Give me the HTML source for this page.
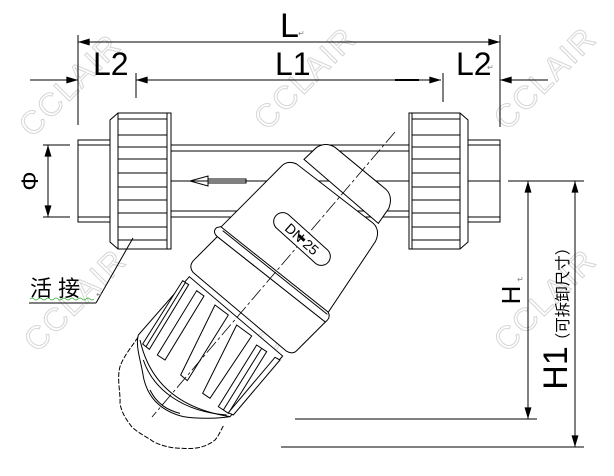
<!DOCTYPE html>
<html><head><meta charset="utf-8"><style>
html,body{margin:0;padding:0;background:#fff;}
svg{display:block;}
text{font-family:"Liberation Sans","Noto Sans CJK SC",sans-serif;}
</style></head><body>
<svg width="614" height="476" viewBox="0 0 614 476" xmlns="http://www.w3.org/2000/svg">
<defs>
<marker id="a" viewBox="0 0 10 6" refX="10" refY="3" markerWidth="24" markerHeight="7" markerUnits="userSpaceOnUse" orient="auto"><path d="M0,0 L10,3 L0,6 Z" fill="#000"/></marker>
</defs>
<g fill="none" stroke="#d6d6d6" stroke-width="1" font-size="32" letter-spacing="2" text-anchor="middle">
<text transform="translate(70,85) rotate(-45)" dy="11">CCLAIR</text>
<text transform="translate(305,78) rotate(-45)" dy="11">CCLAIR</text>
<text transform="translate(545,78) rotate(-45)" dy="11">CCLAIR</text>
<text transform="translate(75,300) rotate(-45)" dy="11">CCLAIR</text>
<text transform="translate(305,305) rotate(-45)" dy="11">CCLAIR</text>
<text transform="translate(545,300) rotate(-45)" dy="11">CCLAIR</text>
</g>
<g stroke="#000" stroke-width="1" fill="none">
<line x1="78" y1="35" x2="78" y2="125"/>
<line x1="500" y1="35" x2="500" y2="127"/>
<line x1="290" y1="42" x2="78" y2="42" marker-end="url(#a)"/>
<line x1="290" y1="42" x2="500" y2="42" marker-end="url(#a)"/>
<line x1="30" y1="80" x2="78" y2="80" marker-end="url(#a)"/>
<line x1="136" y1="73" x2="136" y2="98"/>
<line x1="443" y1="73" x2="443" y2="102"/>
<line x1="290" y1="80" x2="136" y2="80" marker-end="url(#a)"/>
<line x1="290" y1="80" x2="441" y2="80" marker-end="url(#a)"/>
<line x1="395" y1="80" x2="419" y2="80" stroke-width="2"/>
<line x1="548" y1="80" x2="500" y2="80" marker-end="url(#a)"/>
<rect x="78" y="140" width="32" height="82"/>
<line x1="78" y1="145" x2="110" y2="145"/><line x1="78" y1="217" x2="110" y2="217"/>
<rect x="468" y="140" width="32" height="82"/>
<line x1="468" y1="145" x2="500" y2="145"/><line x1="468" y1="217" x2="500" y2="217"/>
<line x1="171" y1="145" x2="409" y2="145"/><line x1="171" y1="151" x2="409" y2="151"/>
<line x1="171" y1="211" x2="409" y2="211"/><line x1="171" y1="217" x2="409" y2="217"/>
<line x1="110" y1="181" x2="500" y2="181"/>
<line x1="508" y1="181" x2="584" y2="181"/>
<path d="M190,181 L208,176 L208,186 Z"/>
<rect x="208" y="179" width="38" height="4"/>
<path d="M118,113 L171,113 L171,249 L118,249 L110,242 L110,120 Z" fill="#fff"/>
<line x1="118" y1="113" x2="118" y2="249"/><line x1="167" y1="113" x2="167" y2="249"/>
<g>
<line x1="118" y1="119" x2="167" y2="119"/><line x1="118" y1="135" x2="167" y2="135"/>
<line x1="118" y1="147" x2="167" y2="147"/><line x1="118" y1="159" x2="167" y2="159"/>
<line x1="118" y1="173" x2="167" y2="173"/><line x1="118" y1="187" x2="167" y2="187"/>
<line x1="118" y1="200" x2="167" y2="200"/><line x1="118" y1="213" x2="167" y2="213"/>
<line x1="118" y1="227" x2="167" y2="227"/><line x1="118" y1="240" x2="167" y2="240"/>
</g>
<path d="M409,113 L460,113 L468,120 L468,242 L460,249 L409,249 Z" fill="#fff"/>
<line x1="412" y1="113" x2="412" y2="249"/><line x1="460" y1="113" x2="460" y2="249"/>
<g>
<line x1="412" y1="119" x2="460" y2="119"/><line x1="412" y1="135" x2="460" y2="135"/>
<line x1="412" y1="147" x2="460" y2="147"/><line x1="412" y1="159" x2="460" y2="159"/>
<line x1="412" y1="173" x2="460" y2="173"/><line x1="412" y1="187" x2="460" y2="187"/>
<line x1="412" y1="200" x2="460" y2="200"/><line x1="412" y1="213" x2="460" y2="213"/>
<line x1="412" y1="227" x2="460" y2="227"/><line x1="412" y1="240" x2="460" y2="240"/>
</g>
<line x1="43" y1="145" x2="70" y2="145"/><line x1="43" y1="217" x2="70" y2="217"/>
<line x1="48" y1="181" x2="48" y2="145" marker-end="url(#a)"/>
<line x1="48" y1="181" x2="48" y2="217" marker-end="url(#a)"/>
<line x1="528" y1="300" x2="528" y2="181" marker-end="url(#a)"/>
<line x1="528" y1="300" x2="528" y2="419" marker-end="url(#a)"/>
<line x1="575" y1="300" x2="575" y2="181" marker-end="url(#a)"/>
<line x1="575" y1="300" x2="575" y2="447" marker-end="url(#a)"/>
<line x1="295" y1="419" x2="537" y2="419"/>
<line x1="281" y1="447" x2="584" y2="447"/>
<line x1="29" y1="303" x2="96" y2="303"/>
<line x1="96" y1="303" x2="133" y2="238"/>
<path d="M30,299 q2,-2 4,0 t4,0 t4,0 t4,0 t4,0 t4,0 t4,0 t4,0 t4,0 t4,0 t4,0 t4,0 t4,0 t4,0 t4,0 t4,0" stroke="#3a3" stroke-width="0.8"/>
</g>
<g transform="translate(100,130) scale(0.33333)" stroke="#000" stroke-width="3" fill="#fff">
<path d="M612,88 L650,52 Q678,35 705,52 L858,178 Q880,200 866,236 L835,280 L612,88 Z"/>
<path d="M362,292 L545,108 Q562,90 590,102 L820,280 Q842,302 826,335 L684,548 Z"/>
<path d="M352,320 L280,392 Q265,410 280,428 L560,664 Q580,675 592,660 L676,576 Z"/>
<path d="M268,440 L115,615 C105,650 125,700 130,740 C140,790 170,840 250,860 C300,868 360,865 390,860 L548,678 Z"/>
<path d="M362,290 L684,546 Q694,562 676,576 L352,320 Q336,305 350,293 Z"/>
<line x1="368" y1="302" x2="682" y2="553"/>
<polygon points="248,452 266,464 148,658 128,642"/>
<line x1="256" y1="458" x2="138" y2="650"/>
<polygon points="290,482 312,498 195,690 172,675"/>
<polygon points="345,525 385,555 262,752 242,735"/>
<polygon points="410,585 455,618 330,805 308,790"/>
<polygon points="470,645 500,665 385,850 355,830"/>
<line x1="485" y1="655" x2="370" y2="840"/>
<polygon points="525,682 540,690 400,855 385,848"/>
<path d="M120,630 C140,720 200,830 390,860" fill="none"/>
<path d="M130,690 C160,780 250,845 380,855" fill="none"/>
<path d="M150,780 C170,820 200,840 240,850" fill="none"/>
<path d="M114,622 C95,650 70,680 60,710 C50,745 62,790 60,820 C65,850 80,870 95,890 C115,910 140,920 160,935 C190,950 220,955 250,955 C290,958 320,950 345,930 C358,915 362,900 372,885" fill="none" stroke-dasharray="15 5"/>
</g>
<line x1="395" y1="132" x2="152" y2="417" stroke="#000" stroke-width="0.8" stroke-dasharray="14 3 3 3"/>
<g transform="translate(302,239) rotate(42)">
<rect x="-35" y="-9" width="70" height="18" rx="9" fill="#fff" stroke="#000" stroke-width="1"/>
<text x="0" y="5" font-size="14" text-anchor="middle" fill="#000">DN 25</text>
<rect x="-5" y="-2" width="8" height="3" fill="#000"/>
</g>
<g fill="#000">
<text x="280" y="37" font-size="34">L</text>
<text x="298" y="36" font-size="8" fill="#888">↵</text>
<text x="93" y="75" font-size="32">L2</text>
<text x="275" y="75" font-size="32">L1</text>
<text x="456" y="75" font-size="32">L2</text>
<text x="487" y="70" font-size="8" fill="#888">↵</text>
<text transform="translate(38,181) rotate(-90)" font-size="24" text-anchor="middle">Φ</text>
<text x="30" y="296" font-size="22">活 接</text>
<text x="96" y="297" font-size="8" fill="#888">↵</text>
<text transform="translate(520,295) rotate(-90)" font-size="26" text-anchor="middle">H</text>
<text x="517" y="282" font-size="8" fill="#888">↵</text>
<text transform="translate(567,368) rotate(-90)" font-size="34" text-anchor="middle">H1</text>
<text transform="translate(568,294) rotate(-90)" font-size="15.5" text-anchor="middle">（可拆卸尺寸）</text>
</g>
</svg>
</body></html>
